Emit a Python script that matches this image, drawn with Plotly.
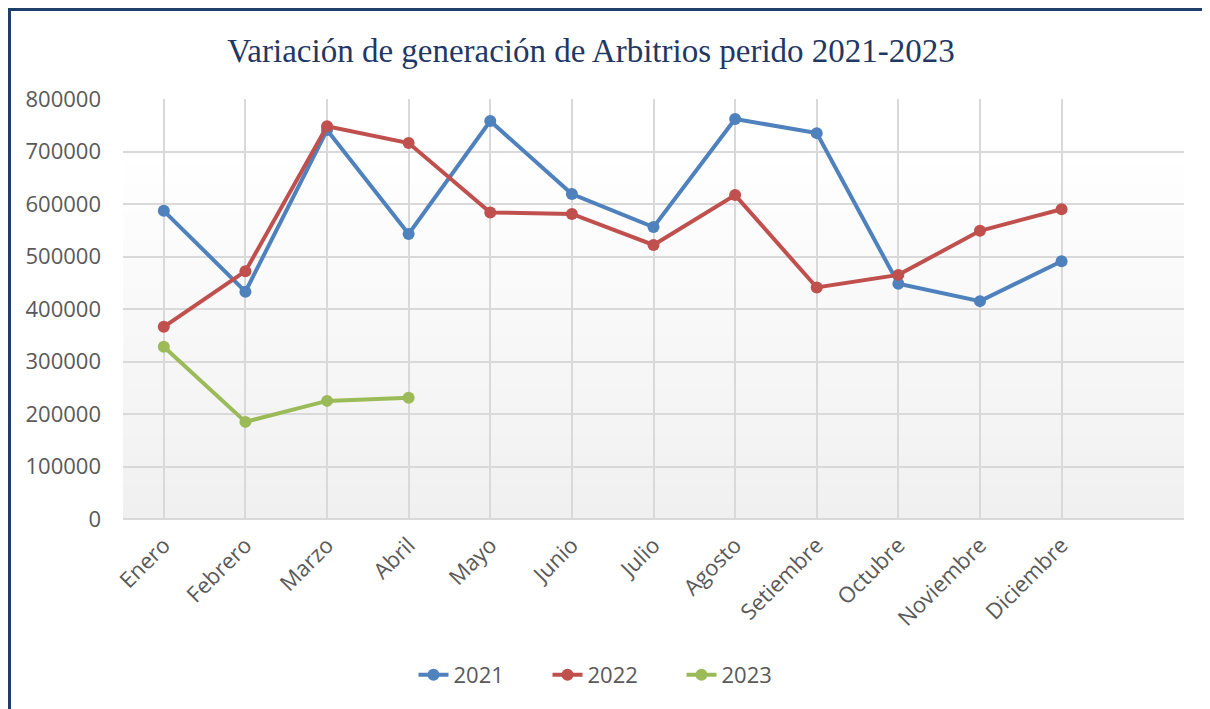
import plotly.graph_objects as go

meses = ["Enero", "Febrero", "Marzo", "Abril", "Mayo", "Junio", "Julio",
         "Agosto", "Setiembre", "Octubre", "Noviembre", "Diciembre"]
v2021 = [587000, 433000, 741000, 543000, 758000, 619000, 556000,
         762000, 735000, 448000, 415000, 491000]
v2022 = [366000, 472000, 748000, 716000, 584000, 581000, 522000,
         617000, 441000, 465000, 549000, 590000]
v2023 = [328000, 185000, 225000, 231000]
y_ticks = [0, 100000, 200000, 300000, 400000, 500000, 600000, 700000, 800000]

title_text = "Variación de generación de Arbitrios perido 2021-2023"

colors = {"2021": "#4F81BD", "2022": "#C0504D", "2023": "#9BBB59"}
font_fam = "Open Sans"
txt_col = "#595959"

x_idx = list(range(len(meses)))

# page body has an 8px margin; figure is offset by it
OFF = 8
W, H = 1210 - OFF, 709 - OFF
PL, PR, PT, PB = 123, 1184, 99, 519  # plot box in screen px
pw, ph = PR - PL, PB - PT

fig = go.Figure()
for name, vals in [("2021", v2021), ("2022", v2022), ("2023", v2023)]:
    fig.add_trace(go.Scatter(
        x=x_idx[:len(vals)], y=vals, name=name, mode="lines+markers",
        line=dict(color=colors[name], width=4),
        marker=dict(color=colors[name], size=12),
    ))

# gradient background bands (style only)
shapes = []
n = 60
top_c = (255, 255, 255)
bot_c = (240, 240, 240)
for i in range(n):
    y0 = i / n
    y1 = (i + 1) / n
    t = (1 - (y0 + y1) / 2)
    t = max(0.0, (t - 0.12) / 0.88)
    c = tuple(int(round(top_c[k] + (bot_c[k] - top_c[k]) * t)) for k in range(3))
    shapes.append(dict(type="rect", xref="paper", yref="paper",
                       x0=0, x1=1, y0=y0, y1=y1 + 0.002,
                       fillcolor="rgb(%d,%d,%d)" % c, line=dict(width=0),
                       layer="below"))

# outer border (left and top edges visible)
border_col = "#1F3F6B"
bx = (9.5 - PL) / pw
by = (PB - 9.5) / ph
shapes.append(dict(type="line", xref="paper", yref="paper",
                   x0=bx, x1=bx, y0=by + 0.004, y1=-0.6,
                   line=dict(color=border_col, width=3)))
shapes.append(dict(type="line", xref="paper", yref="paper",
                   x0=bx - 0.0015, x1=1.1, y0=by, y1=by,
                   line=dict(color=border_col, width=3)))

fig.update_layout(
    width=W, height=H,
    margin=dict(l=PL - OFF, r=1210 - PR, t=PT - OFF, b=709 - PB, pad=0),
    paper_bgcolor="white", plot_bgcolor="white",
    title=dict(text=title_text, x=(591 - OFF) / W, xanchor="center",
               y=1 - (50 - OFF) / H, yanchor="middle",
               font=dict(family="Liberation Serif", size=33, color="#1F3864")),
    xaxis=dict(range=[-0.5, 12.5], tickmode="array", tickvals=x_idx,
               ticktext=meses, tickangle=-45, showgrid=True,
               gridcolor="#D9D9D9", gridwidth=1.5, zeroline=False,
               showline=False, ticks="", ticklabelstandoff=8,
               tickfont=dict(family=font_fam, size=22, color=txt_col)),
    yaxis=dict(range=[0, 800000], tickmode="array", tickvals=y_ticks,
               tickformat="d", showgrid=True, gridcolor="#D9D9D9",
               gridwidth=1.5, zeroline=True, zerolinecolor="#D9D9D9",
               zerolinewidth=1.5, showline=False, ticks="",
               ticklabelstandoff=21,
               tickfont=dict(family=font_fam, size=22, color=txt_col)),
    legend=dict(orientation="h", x=(614.5 - PL) / pw, xanchor="center",
                y=(PB - 675) / ph, yanchor="middle",
                entrywidth=89, entrywidthmode="pixels",
                font=dict(family=font_fam, size=22, color=txt_col),
                bgcolor="rgba(0,0,0,0)"),
    shapes=shapes,
    showlegend=True,
)

fig.write_html("out.html")
